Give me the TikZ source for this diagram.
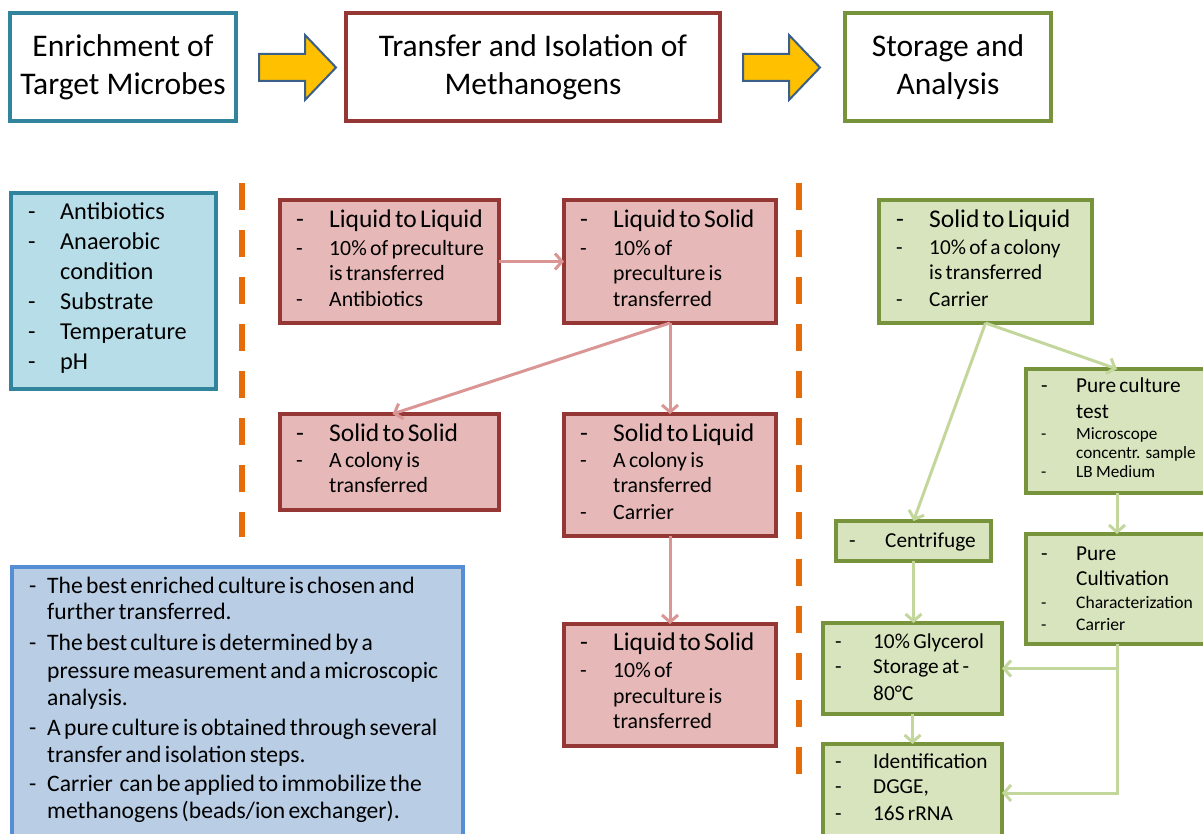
\documentclass[tikz,border=0pt]{standalone}
\usepackage{fontspec}
\setmainfont{Carlito}
\usetikzlibrary{arrows.meta}
\definecolor{tealb}{HTML}{31849B}
\definecolor{cyanf}{HTML}{B7DEE8}
\definecolor{redb}{HTML}{953735}
\definecolor{redf}{HTML}{E6B9B8}
\definecolor{reda}{HTML}{D99694}
\definecolor{grnb}{HTML}{77933C}
\definecolor{grnf}{HTML}{D7E4BD}
\definecolor{grna}{HTML}{C3D69B}
\definecolor{orng}{HTML}{E46C0A}
\definecolor{goldf}{HTML}{FFC000}
\definecolor{arrb}{HTML}{3A5F8B}
\definecolor{bluef}{HTML}{B9CDE5}
\definecolor{blueb}{HTML}{558ED5}
\newlength\dw
\newcommand\li[3]{{\fontsize{#1}{#2}\selectfont\makebox[\dw][l]{-}#3\par}}
\newcommand\lc[3]{{\fontsize{#1}{#2}\selectfont\hspace*{\dw}#3\par}}
\newcommand\bx[7]{\node[#2, minimum width={#5-#3}, minimum height={#6-#4}] (#1) at ({(#3+#5)/2},{(#4+#6)/2}) {#7};}
\tikzset{
  base/.style={inner sep=0pt, outer sep=0pt},
  hdr/.style={base, draw, fill=white, line width=3.5pt, align=center, font=\fontsize{31.5}{38}\selectfont},
  cbox/.style={base, draw=tealb, fill=cyanf, line width=4.5pt},
  rbox/.style={base, draw=redb, fill=redf, line width=4.5pt},
  gbox/.style={base, draw=grnb, fill=grnf, line width=4.5pt},
  bbox/.style={base, draw=blueb, fill=bluef, line width=3.5pt},
  txt/.style={inner sep=0pt, anchor=base west, text width=440pt, align=left},
  rarr/.style={draw=reda, line width=3pt, -{Straight Barb[length=7pt,width=16pt]}},
  garr/.style={draw=grna, line width=3pt, -{Straight Barb[length=7pt,width=16pt]}},
  odash/.style={draw=orng, line width=5.5pt, dash pattern=on 27pt off 20pt},
  barrow/.style={draw=arrb, fill=goldf, line width=2pt, line join=miter},
}
\begin{document}
\begin{tikzpicture}[x=1pt,y=-1pt]
\useasboundingbox (0,0) rectangle (1203,834);
% headers
\bx{h1}{hdr, draw=tealb}{10}{13}{236}{121}{Enrichment of\\Target Microbes}
\bx{h2}{hdr, draw=redb}{346}{13}{720}{121}{Transfer and Isolation of\\Methanogens}
\bx{h3}{hdr, draw=grnb}{845}{13}{1051}{121}{Storage and\\Analysis}
% block arrows
\draw[barrow] (259,54) -- (305,54) -- (305,35) -- (336,67.5) -- (305,100) -- (305,81) -- (259,81) -- cycle;
\draw[barrow] (743,54) -- (789,54) -- (789,35) -- (820,67.5) -- (789,100) -- (789,81) -- (743,81) -- cycle;
% dashed separators
\draw[odash] (242,183) -- (242,537);
\draw[odash] (799,183) -- (799,775);
% cyan box
\bx{cy}{cbox}{11}{193}{216}{389}{}
\node[txt] (cyt) at (28,220) {\setlength\dw{32pt}%
\li{24.3}{30}{Antibiotics}\li{24.3}{30}{Anaerobic}\lc{24.3}{30}{condition}\li{24.3}{30}{Substrate}\li{24.3}{30}{Temperature}\li{24.3}{30}{pH}};
% red boxes
\bx{ll}{rbox}{280}{200}{499}{323}{}
\node[txt] (llt) at (296,228) {\setlength\dw{33pt}%
\li{25.5}{28}{Liquid to Liquid}\li{21.8}{28}{10\% of preculture}\lc{21.8}{25}{is transferred}\li{21.8}{26}{Antibiotics}};
\bx{ls1}{rbox}{564}{200}{776}{323}{}
\node[txt] (ls1t) at (580,228) {\setlength\dw{33pt}%
\li{25.5}{28}{Liquid to Solid}\li{21.8}{28}{10\% of}\lc{21.8}{25}{preculture is}\lc{21.8}{26}{transferred}};
\bx{ss}{rbox}{280}{414}{499}{510}{}
\node[txt] (sst) at (296,442) {\setlength\dw{33pt}%
\li{25.5}{28}{Solid to Solid}\li{21.8}{26}{A colony is}\lc{21.8}{25}{transferred}};
\bx{sl}{rbox}{564}{414}{776}{536}{}
\node[txt] (slt) at (580,442) {\setlength\dw{33pt}%
\li{25.5}{28}{Solid to Liquid}\li{21.8}{26}{A colony is}\lc{21.8}{25}{transferred}\li{21.8}{27}{Carrier}};
\bx{ls2}{rbox}{564}{624}{776}{746}{}
\node[txt] (ls2t) at (580,650) {\setlength\dw{33pt}%
\li{25.5}{28}{Liquid to Solid}\li{21.8}{27}{10\% of}\lc{21.8}{26}{preculture is}\lc{21.8}{25}{transferred}};
\draw[rarr] (ll.east) -- (ls1.west);
\draw[rarr] (ls1.south) -- ([xshift=3pt]ss.north);
\draw[rarr] (ls1.south) -- (sl.north);
\draw[rarr] (sl.south) -- (ls2.north);
% green boxes
\bx{g1}{gbox}{879}{200}{1092}{323}{}
\node[txt] (g1t) at (896,228) {\setlength\dw{33pt}%
\li{25.5}{28}{Solid to Liquid}\li{21.3}{27}{10\% of a colony}\lc{21.3}{25}{is transferred}\li{21.3}{27}{Carrier}};
\bx{pct}{gbox}{1026}{369}{1208}{493}{}
\node[txt] (pctt) at (1041,393) {\setlength\dw{35pt}%
\li{21.3}{25}{Pure culture}\lc{21.3}{25}{test}\li{17.2}{22}{Microscope}\lc{17.2}{19}{concentr. sample}\li{17.2}{19}{LB Medium}};
\bx{cen}{gbox}{836}{521}{991}{561}{}
\node[txt] (cent) at (849,547) {\setlength\dw{36pt}%
\li{21.3}{25}{Centrifuge}};
\bx{pcu}{gbox}{1026}{534}{1208}{644}{}
\node[txt] (pcut) at (1041,560) {\setlength\dw{35pt}%
\li{21.3}{25}{Pure}\lc{21.3}{25}{Cultivation}\li{17.6}{23}{Characterization}\li{17.6}{22}{Carrier}};
\bx{gly}{gbox}{823}{623}{1002}{714}{}
\node[txt] (glyt) at (835,648) {\setlength\dw{38pt}%
\li{21.3}{25}{10\% Glycerol}\li{21.3}{25}{Storage at -}\lc{21.3}{27}{80°C}};
\bx{idn}{gbox}{823}{744}{1002}{842}{}
\node[txt] (idnt) at (835,768) {\setlength\dw{38pt}%
\li{21.3}{25}{Identification}\li{21.3}{25}{DGGE,}\li{21.3}{27}{16S rRNA}};
\draw[garr] (g1.south) -- (cen.north);
\draw[garr] (g1.south) -- (pct.north);
\draw[garr] (pct.south) -- (pcu.north);
\draw[garr] (cen.south) -- (cen.south |- gly.north);
\draw[garr] (gly.south) -- (idn.north);
\draw[garr] (pcu.south) |- (idn.east);
\draw[garr] (pcu.south |- gly.east) -- (gly.east);
% bottom note box
\bx{nb}{bbox}{12}{567}{463}{850}{}
\node[txt] (nbt) at (29,593) {\setlength\dw{18pt}%
\li{23.6}{27}{The best enriched culture is chosen and}\lc{23.6}{26}{further transferred.}%
\li{23.6}{31}{The best culture is determined by a}\lc{23.6}{28}{pressure measurement and a microscopic}\lc{23.6}{27}{analysis.}%
\li{23.6}{30}{A pure culture is obtained through several}\lc{23.6}{27}{transfer and isolation steps.}%
\li{23.6}{29}{Carrier\ \ can be applied to immobilize the}\lc{23.6}{27}{methanogens (beads/ion exchanger).}};
\end{tikzpicture}
\end{document}
